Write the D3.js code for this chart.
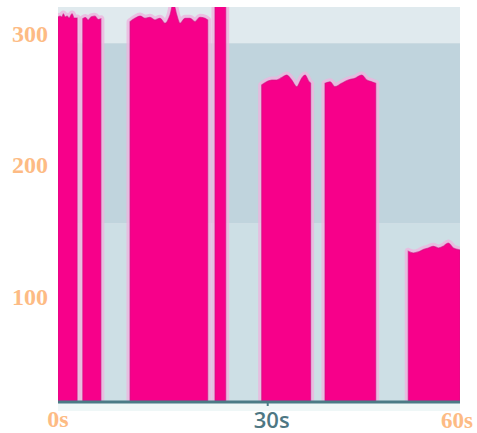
<!DOCTYPE html>
<html>
<head>
<meta charset="utf-8">
<script src="https://cdn.jsdelivr.net/npm/d3@7"></script>
<style>
  html, body { margin: 0; padding: 0; background: #ffffff; }
  svg { display: block; }
</style>
</head>
<body>
<svg id="chart" width="477" height="433"></svg>
<script>
// ---- data ----
const yTickValues = [100, 200, 300];
const yTickLabels = ["100", "200", "300"];
const xTickValues = [0, 31.3, 60];
const xTickLabels = ["0s", "30s", "60s"];

// background bands [low, high]
const bandLows  = [20, 155, 292.5];
const bandHighs = [155, 292.5, 320];
const bandColors = ["#cddfe5", "#c0d4dd", "#e0eaee"];

// bursts: [time (s), value]
const burst1 = [[0, 312.4], [0.3, 313], [0.6, 312.4], [0.8, 314.7], [1.05, 312.4], [1.35, 313], [1.65, 311.6], [2.1, 314.7], [2.4, 311.6], [2.85, 311.6]];
const burst2 = [[3.7, 311], [4.1, 312], [4.5, 310], [5.0, 312.5], [5.5, 313], [6.0, 310.5], [6.4, 311]];
const burst3 = [[10.75, 308.8], [11.49, 311.4], [12.24, 313.1], [12.99, 311.4], [13.73, 312.2], [14.48, 310.1], [15.22, 311.4], [15.97, 307.6], [16.72, 313.9], [17.21, 323], [17.72, 313.9], [18.21, 307.6], [18.96, 311.4], [19.70, 311.4], [20.45, 308.8], [21.19, 312.2], [21.94, 311.4], [22.34, 310.1]];
const burst4 = [[23.43, 340], [25.03, 340]];
const burst5 = [[30.4, 260.6], [31.15, 263.1], [31.9, 264.4], [32.64, 264.4], [33.39, 266.2], [34.13, 268.2], [34.88, 264.4], [35.63, 259.3], [36.37, 265.7], [36.87, 268.2], [37.46, 263.1], [37.7, 262]];
const burst6 = [[39.85, 261.9], [40.6, 263.1], [41.34, 259.3], [42.34, 261.9], [43.33, 264.4], [44.33, 265.7], [45.33, 268.2], [46.07, 264.4], [46.82, 263.1], [47.42, 261.9]];
const burst7 = [[52.28, 134], [53.03, 132.7], [53.78, 133.5], [54.52, 135.3], [55.27, 136.5], [56.01, 137.8], [56.76, 136.5], [57.51, 137.8], [58.25, 140.3], [59.0, 136.5], [60, 135]];
const bursts = [burst1, burst2, burst3, burst4, burst5, burst6, burst7];

// ---- layout ----
const plotL = 58, plotR = 460, plotT = 7, plotB = 401;
const svg = d3.select("#chart");

const x = d3.scaleLinear().domain([0, 60]).range([plotL, plotR]);
const y = d3.scaleLinear().domain([20, 320]).range([plotB, plotT]);

svg.append("defs").append("clipPath").attr("id", "plotclip")
  .append("rect").attr("x", plotL).attr("y", plotT)
  .attr("width", plotR - plotL).attr("height", plotB - plotT);

// bands
svg.append("g").selectAll("rect").data(bandLows).join("rect")
  .attr("x", plotL).attr("width", plotR - plotL)
  .attr("y", (d, i) => y(bandHighs[i]))
  .attr("height", (d, i) => y(d) - y(bandHighs[i]))
  .attr("fill", (d, i) => bandColors[i]);

// bursts
const area = d3.area()
  .x(d => x(d[0]))
  .y0(y(20))
  .y1(d => y(d[1]))
  .curve(d3.curveMonotoneX);

const g = svg.append("g").attr("clip-path", "url(#plotclip)");
g.selectAll("path.halo").data(bursts).join("path")
  .attr("class", "halo")
  .attr("d", area)
  .attr("fill", "none")
  .attr("stroke", "#eeb4de")
  .attr("stroke-opacity", 0.8)
  .attr("stroke-width", 7)
  .attr("stroke-linejoin", "round");
g.selectAll("path.burst").data(bursts).join("path")
  .attr("class", "burst")
  .attr("d", area)
  .attr("fill", "#f7008a")
  .attr("stroke", "#cf1080")
  .attr("stroke-opacity", 0.6)
  .attr("stroke-width", 1.2);

// axis baseline
svg.append("rect").attr("x", plotL).attr("width", plotR - plotL)
  .attr("y", plotB + 2).attr("height", 8).attr("fill", "#eff7f7");
svg.append("line")
  .attr("x1", plotL).attr("x2", plotR)
  .attr("y1", plotB + 1).attr("y2", plotB + 1)
  .attr("stroke", "#4b7b86").attr("stroke-width", 3);

// y labels
svg.append("g").selectAll("text").data(yTickValues).join("text")
  .attr("x", 48)
  .attr("y", d => y(d))
  .attr("dy", "0.36em")
  .attr("text-anchor", "end")
  .attr("font-family", "'Liberation Serif', serif")
  .attr("font-weight", "bold")
  .attr("font-size", 24)
  .attr("fill", "#fdbb84")
  .text((d, i) => yTickLabels[i]);

// x labels
const xg = svg.append("g");
xTickValues.forEach((v, i) => {
  if (i === 1) {
    xg.append("line")
      .attr("x1", x(v)).attr("x2", x(v))
      .attr("y1", plotB).attr("y2", plotB + 5)
      .attr("stroke", "#4b7b86").attr("stroke-width", 2);
    xg.append("text")
      .attr("x", x(v) + 4).attr("y", 428)
      .attr("text-anchor", "middle")
      .attr("font-family", "'Open Sans', sans-serif")
      .attr("font-weight", 600)
      .attr("font-size", 22)
      .attr("fill", "#4e7783")
      .text(xTickLabels[i]);
  } else if (i === 0) {
    xg.append("text")
      .attr("x", x(v)).attr("y", 427)
      .attr("text-anchor", "middle")
      .attr("font-family", "'Liberation Serif', serif")
      .attr("font-weight", "bold")
      .attr("font-size", 24)
      .attr("fill", "#fdbb84")
      .text(xTickLabels[i]);
  } else {
    xg.append("text")
      .attr("x", x(v) + 13).attr("y", 428)
      .attr("text-anchor", "end")
      .attr("font-family", "'Liberation Serif', serif")
      .attr("font-weight", "bold")
      .attr("font-size", 23)
      .attr("fill", "#fdbb84")
      .text(xTickLabels[i]);
  }
});
</script>
</body>
</html>
